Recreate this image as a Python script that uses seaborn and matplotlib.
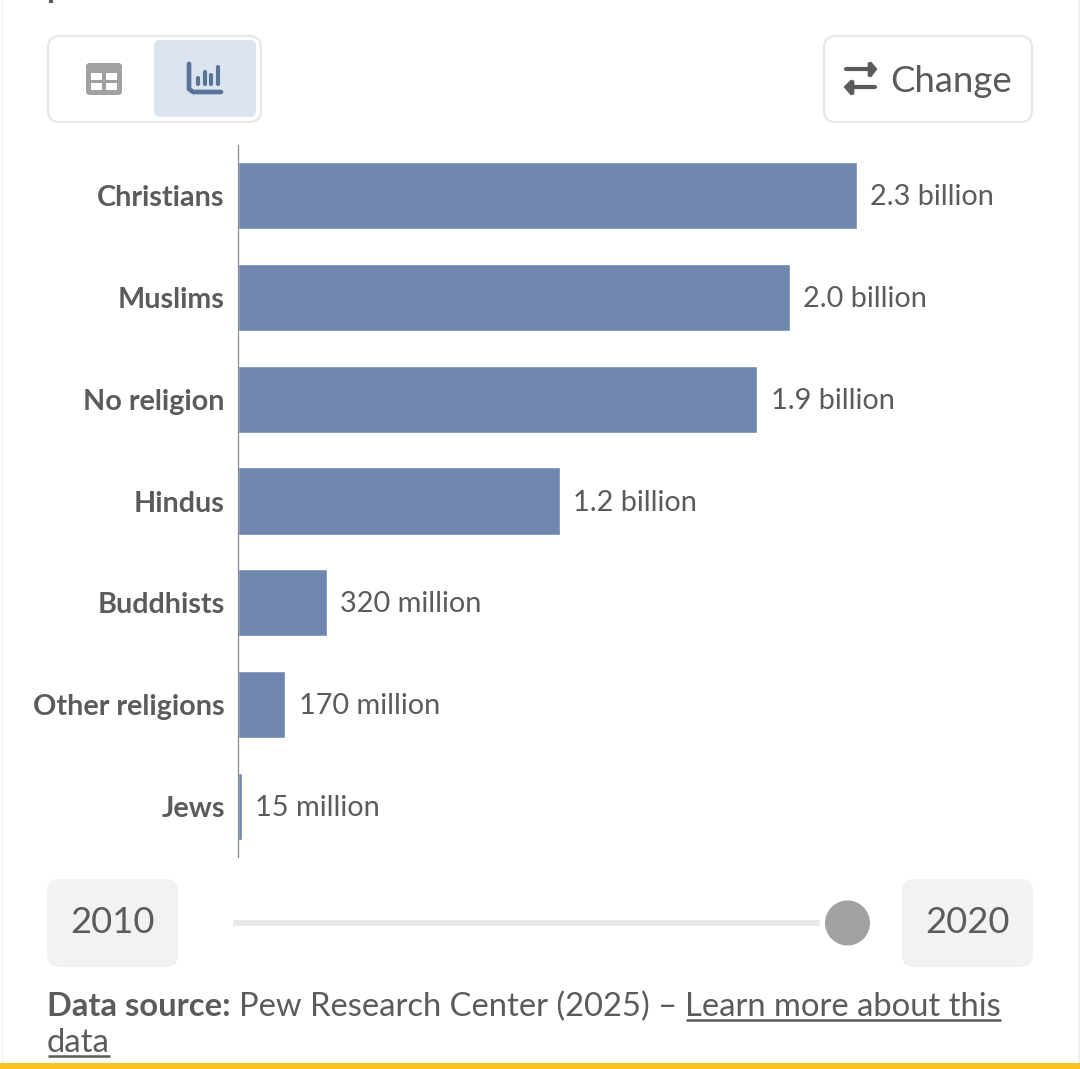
import matplotlib
matplotlib.use('Agg')
import matplotlib.pyplot as plt
import pandas as pd
import seaborn as sns
from matplotlib.patches import FancyBboxPatch, Circle, Rectangle, Polygon

groups = ['Christians', 'Muslims', 'No religion', 'Hindus', 'Buddhists', 'Other religions', 'Jews']
population = [2.3, 2.05, 1.93, 1.195, 0.33, 0.176, 0.015]
labels = ['2.3 billion', '2.0 billion', '1.9 billion', '1.2 billion', '320 million', '170 million', '15 million']
start_year = '2010'
end_year = '2020'

GREY = '#5b5b5b'
W, H = 1080, 1069

sns.set_theme(style='white')
plt.rcParams['font.family'] = ['Lato', 'DejaVu Sans']

fig = plt.figure(figsize=(10.8, 10.69), dpi=100)

# page furniture, drawn in pixel coordinates
bg = fig.add_axes([0, 0, 1, 1])
bg.set_xlim(0, W)
bg.set_ylim(H, 0)
bg.axis('off')


def box(x0, y0, x1, y1, r, fc, ec='none', lw=0):
    bg.add_patch(FancyBboxPatch((x0 + r, y0 + r), x1 - x0 - 2 * r, y1 - y0 - 2 * r,
                                boxstyle='round,pad=%d,rounding_size=%d' % (r, r),
                                fc=fc, ec=ec, lw=lw))


# window edges and yellow strip
bg.add_patch(Rectangle((1.5, 0), 1.5, H, fc='#f0f0f0', ec='none'))
bg.add_patch(Rectangle((1077.5, 0), 2, H, fc='#f0f0f0', ec='none'))
bg.add_patch(Rectangle((0, 1063), W, 6, fc='#f9c321', ec='none'))
bg.plot([51, 51], [0, 3], color=GREY, lw=3, solid_capstyle='butt')

# table / chart switch
box(48, 36, 261, 122, 12, 'white', '#e7e7e7', 1.6)
box(154, 40, 256, 117, 6, '#dce5ef')
box(86, 63, 122, 95, 4, '#a1a1a1')
for x, y, w, h in [(91, 73, 11, 6.5), (106, 73, 11, 6.5), (91, 83, 11, 7), (106, 83, 11, 7)]:
    bg.add_patch(Rectangle((x, y), w, h, fc='white', ec='none'))
bg.plot([189, 189, 193, 221], [64, 89, 92, 92], color='#5a7499', lw=3.4, solid_capstyle='round')
for x, top, bottom in [(198, 78, 84), (204.5, 72, 84), (211, 75, 84), (218, 67, 84)]:
    bg.plot([x, x], [top, bottom], color='#5a7499', lw=3, solid_capstyle='round')

# change button
box(824, 36, 1032, 122, 12, 'white', '#e7e7e7', 1.6)
bg.plot([846, 870], [69, 69], color=GREY, lw=3, solid_capstyle='round')
bg.plot([851, 875], [87, 87], color=GREY, lw=3, solid_capstyle='round')
bg.add_patch(Polygon([[868, 63], [871, 62], [877, 69], [871, 77], [868, 76]], fc=GREY, ec=GREY, lw=0.5))
bg.add_patch(Polygon([[854, 81], [851, 80], [844, 87], [851, 95], [854, 94]], fc=GREY, ec=GREY, lw=0.5))
bg.text(890, 92, 'Change', color=GREY, fontsize=26.3, va='baseline')

# year slider
box(47, 879, 178, 967, 12, '#f2f2f2')
box(902, 879, 1033, 967, 12, '#f2f2f2')
bg.text(112.5, 933, start_year, color=GREY, fontsize=26.2, ha='center', va='baseline')
bg.text(967.5, 933, end_year, color=GREY, fontsize=26.2, ha='center', va='baseline')
bg.add_patch(Rectangle((233, 920), 587, 6, fc='#e7e7e7', ec='none'))
bg.add_patch(Circle((847.5, 923), 22.5, fc='#a1a1a1', ec='none'))

# source note
bg.text(47, 1016, 'Data source:', color=GREY, fontsize=23.6, fontweight='bold', va='baseline')
bg.text(239, 1016, 'Pew Research Center (2025) \u2013', color=GREY, fontsize=23.6, va='baseline')
bg.text(685, 1016, 'Learn more about this', color=GREY, fontsize=23.6, va='baseline')
bg.text(47, 1052, 'data', color=GREY, fontsize=23.6, va='baseline')
bg.plot([686, 1001], [1020, 1020], color=GREY, lw=1.8, solid_capstyle='butt')
bg.plot([48, 110], [1056, 1056], color=GREY, lw=1.8, solid_capstyle='butt')

# the chart itself
ax = fig.add_axes([238 / W, 1 - 857 / H, (1032 - 238) / W, (857 - 145) / H])
ax.patch.set_alpha(0)
df = pd.DataFrame({'group': groups, 'population': population})
sns.barplot(data=df, x='population', y='group', color='#6f87af', saturation=1, width=0.66, ax=ax)
ax.set_xlim(0, (1032 - 238) / (619 / 2.3))
ax.set_ylim(6.5, -0.5)
ax.set_xlabel('')
ax.set_ylabel('')
ax.set_xticks([])
sns.despine(ax=ax, left=False, right=True, top=True, bottom=True)
ax.spines['left'].set_color('#8c8c8c')
ax.spines['left'].set_linewidth(0.9)
ax.tick_params(axis='y', length=0, pad=9.5)
for t in ax.get_yticklabels():
    t.set_color(GREY)
    t.set_fontweight('bold')
    t.set_fontsize(20.7)
bar_texts = ax.bar_label(ax.containers[0], labels=labels, padding=10, color=GREY, fontsize=20.8)
for t in bar_texts:
    t.xyann = (t.xyann[0] - 0.5, -1.1)

fig.savefig('out.png', dpi=100)
